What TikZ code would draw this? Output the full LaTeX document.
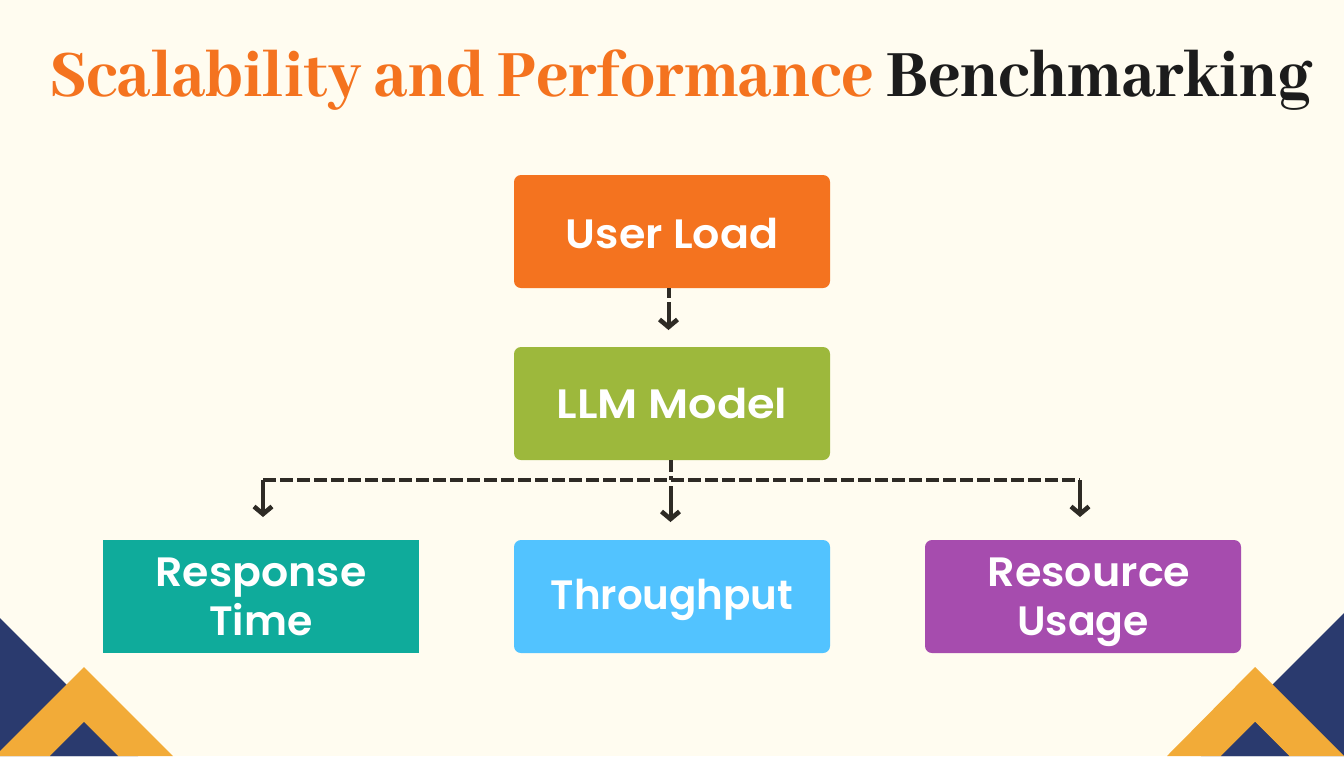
\documentclass[tikz,border=0pt]{standalone}
\usepackage{fontspec}
\setmainfont{Abhaya Libre}[BoldFont={Abhaya Libre ExtraBold},BoldFeatures={FakeStretch=0.95}]
\newfontfamily\boxfont{Poppins}[BoldFont={Poppins SemiBold}]
\newcommand{\wdt}[2]{{\addfontfeature{FakeStretch=#1}#2}}
\usetikzlibrary{arrows.meta}
\definecolor{bgc}{HTML}{FFFCF0}
\definecolor{orangec}{HTML}{F4731F}
\definecolor{greenc}{HTML}{9DB83C}
\definecolor{tealc}{HTML}{0FAB9B}
\definecolor{bluec}{HTML}{52C3FF}
\definecolor{purplec}{HTML}{A64CAE}
\definecolor{navyc}{HTML}{2A3A6E}
\definecolor{goldc}{HTML}{F2AB38}
\definecolor{darkc}{HTML}{2E2B25}
\definecolor{inkc}{HTML}{1C1C1C}
\tikzset{
 boxn/.style={minimum width=316pt,minimum height=113pt,inner sep=0pt,outer sep=0pt,text=white,align=center,font=\boxfont\bfseries\fontsize{41}{49}\selectfont},
 rbox/.style={boxn,rounded corners=7pt},
 lnk/.style={draw=darkc,line width=4pt},
 dashlnk/.style={lnk,dash pattern=on 13pt off 4pt},
 tipd/.style={-{Straight Barb[length=7.5pt,width=18pt,line width=4.6pt]}},
 titlet/.style={inner sep=0pt,font=\bfseries\fontsize{73}{80}\selectfont,anchor=base west}
}
\begin{document}
\begin{tikzpicture}[x=1pt,y=-1pt]
\useasboundingbox (0,0) rectangle (1344,756);
\fill[bgc] (0,0) rectangle (1344,756);
% corners
\fill[navyc] (0,618) -- (138,756) -- (0,756) -- cycle;
\fill[goldc] (84,667) -- (173,756) -- (118,756) -- (84,722) -- (50,756) -- (0,756) -- (0,751) -- cycle;
\fill[navyc] (84,722) -- (118,756) -- (50,756) -- cycle;
\fill[navyc] (1344,613) -- (1201,756) -- (1344,756) -- cycle;
\fill[goldc] (1255,667) -- (1344,756) -- (1289,756) -- (1255,722) -- (1221,756) -- (1167,756) -- cycle;
\fill[navyc] (1255,722) -- (1289,756) -- (1221,756) -- cycle;
% title
\node[titlet] (title) at (49,96) {\textcolor{orangec}{Scalability and Performance} \textcolor{inkc}{Benchmarking}};
% boxes
\node[rbox,fill=orangec,text height=34pt,text depth=0pt] (load) at (672,231.5) {\wdt{1.045}{User Load}};
\node[rbox,fill=greenc,text height=29pt,text depth=0pt] (llm) at (672,403.5) {\wdt{1.09}{LLM Model}};
\node[boxn,fill=tealc] (resp) at (261,596.5) {\wdt{1.04}{Response}\\Time};
\node[rbox,fill=bluec,text height=34pt,text depth=8pt] (thru) at (672,596.5) {\wdt{0.985}{Throughput}};
\node[rbox,fill=purplec] (res) at (1083,596.5) {\hspace*{12pt}\wdt{1.047}{Resource}\\\smash{Usage}};
% connector points
\coordinate (a1) at (668.5,298);
\coordinate (a2) at (668.5,302);
\coordinate (a3) at (668.5,330);
\coordinate (j) at (670.5,480);
\coordinate (jl) at (263,480);
\coordinate (jr) at (1080,480);
\coordinate (tl) at (263,517);
\coordinate (tc) at (670.5,522);
\coordinate (tr) at (1080,517);
\coordinate (j2) at (670.5,486);
% connectors
\draw[lnk] (load.south -| a1) -- (a1);
\draw[lnk,tipd] (a2) -- (a3);
\draw[lnk,dash pattern=on 12pt off 4pt] (llm.south -| j) -- (j);
\draw[dashlnk] (jl) -- (jr);
\draw[lnk,tipd] (jl) -- (tl);
\draw[lnk,tipd] (jr) -- (tr);
\draw[lnk,tipd] (j2) -- (tc);
\end{tikzpicture}
\end{document}
